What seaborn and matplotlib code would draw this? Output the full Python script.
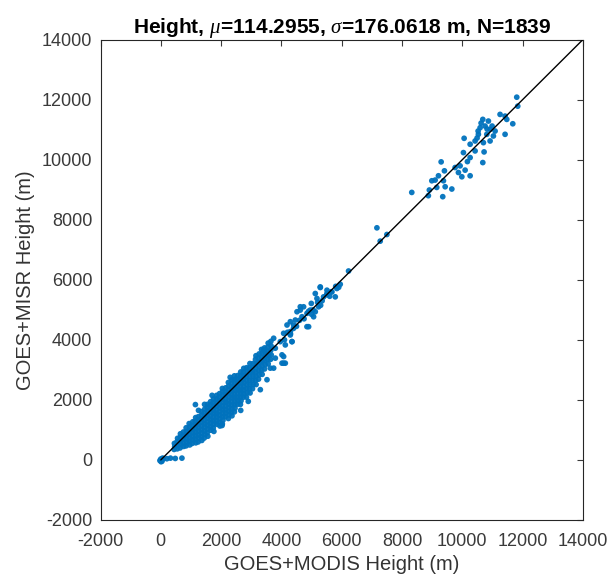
import matplotlib
matplotlib.use("Agg")
import matplotlib.pyplot as plt
import seaborn as sns
import pandas as pd

sns.set_theme(style="white")
plt.rcParams['font.family'] = ['Liberation Sans', 'DejaVu Sans']
plt.rcParams['mathtext.fontset'] = 'custom'
plt.rcParams['mathtext.it'] = 'Liberation Serif:italic'

# ---- data (metres) ----
origin_x = [-30, 0, 30, 60, 10, 40, 80, 200, 320, 480, 700]
origin_y = [-20, 30, 0, 60, -60, -40, 40, 40, 60, 50, 60]

dense_x = [
    440, 460, 450,
    545, 560, 540, 555,
    640, 660, 655, 645, 650,
    760, 740, 755, 745, 750,
    840, 860, 850, 845, 855, 840,
    960, 940, 955, 945, 950, 960, 940,
    1040, 1060, 1045, 1055, 1050, 1040, 1060,
    1160, 1140, 1155, 1145, 1150, 1160, 1140, 1155,
    1240, 1260, 1245, 1255, 1250, 1240, 1260, 1245,
    1360, 1340, 1355, 1345, 1350, 1360, 1340, 1355, 1345,
    1440, 1460, 1445, 1455, 1450, 1440, 1460, 1445, 1455,
    1560, 1540, 1555, 1545, 1550, 1560, 1540, 1555, 1545, 1550,
    1660, 1645, 1655, 1650, 1640, 1660, 1645, 1655, 1650,
    1760, 1740, 1755, 1745, 1750, 1760, 1740, 1755, 1745, 1750,
    1860, 1845, 1855, 1850, 1840, 1860, 1845, 1855, 1850,
    1960, 1940, 1955, 1945, 1950, 1960, 1940, 1955, 1945, 1950,
    2040, 2060, 2045, 2055, 2050, 2040, 2060, 2045, 2055, 2050, 2040,
    2140, 2155, 2145, 2150, 2160, 2140, 2155, 2145, 2150,
    2240, 2260, 2245, 2255, 2250, 2240, 2260, 2245, 2255, 2250, 2240,
    2360, 2340, 2355, 2345, 2350, 2360, 2340, 2355, 2345, 2350, 2360,
    2440, 2460, 2445, 2455, 2450, 2440, 2460, 2445, 2455, 2450, 2440,
    2540, 2555, 2545, 2550, 2560, 2540, 2555, 2545, 2550,
    2640, 2660, 2645, 2655, 2650, 2640, 2660, 2645, 2655, 2650,
    2740, 2755, 2745, 2750, 2760, 2740, 2755, 2745, 2750,
    2840, 2860, 2845, 2855, 2850, 2840, 2860, 2845,
    2960, 2940, 2955, 2945, 2950, 2960, 2940, 2955,
    3040, 3060, 3045, 3055, 3050, 3040, 3060,
    3160, 3140, 3155, 3145, 3150, 3160, 3140, 3155,
    3240, 3260, 3245, 3255, 3250, 3240, 3260,
    3360, 3340, 3355, 3345, 3350, 3360, 3340,
    3440, 3460, 3445, 3455, 3450, 3440,
    3560, 3540, 3555, 3545, 3550, 3560,
    3640, 3660, 3645, 3655, 3650,
]
dense_y = [
    350, 450, 550,
    370, 490, 610, 720,
    400, 520, 640, 760, 870,
    450, 570, 690, 810, 930,
    470, 590, 710, 830, 950, 1070,
    500, 620, 740, 860, 980, 1100, 1210,
    550, 670, 790, 910, 1030, 1150, 1270,
    570, 690, 810, 930, 1050, 1170, 1290, 1410,
    600, 720, 840, 960, 1080, 1200, 1320, 1440,
    650, 770, 890, 1010, 1130, 1250, 1370, 1490, 1610,
    730, 850, 970, 1090, 1210, 1330, 1450, 1570, 1690,
    790, 910, 1030, 1150, 1270, 1390, 1510, 1630, 1750, 1850,
    990, 1110, 1230, 1350, 1470, 1590, 1710, 1830, 1940,
    950, 1070, 1190, 1310, 1430, 1550, 1670, 1790, 1910, 2030,
    1190, 1310, 1430, 1550, 1670, 1790, 1910, 2030, 2150,
    1130, 1250, 1370, 1490, 1610, 1730, 1850, 1970, 2090, 2210,
    1200, 1320, 1440, 1560, 1680, 1800, 1920, 2040, 2160, 2280, 2380,
    1440, 1560, 1680, 1800, 1920, 2040, 2160, 2280, 2400,
    1380, 1500, 1620, 1740, 1860, 1980, 2100, 2220, 2340, 2460, 2580,
    1470, 1590, 1710, 1830, 1950, 2070, 2190, 2310, 2430, 2550, 2670,
    1600, 1720, 1840, 1960, 2080, 2200, 2320, 2440, 2560, 2680, 2800,
    1850, 1970, 2090, 2210, 2330, 2450, 2570, 2690, 2810,
    1850, 1970, 2090, 2210, 2330, 2450, 2570, 2690, 2810, 2930,
    2090, 2210, 2330, 2450, 2570, 2690, 2810, 2930, 3050,
    2090, 2230, 2370, 2510, 2650, 2790, 2930, 3070,
    2230, 2370, 2510, 2650, 2790, 2930, 3070, 3210,
    2370, 2510, 2650, 2790, 2930, 3070, 3210,
    2510, 2650, 2790, 2930, 3070, 3210, 3350, 3470,
    2690, 2830, 2970, 3110, 3250, 3390, 3530,
    2850, 2990, 3130, 3270, 3410, 3550, 3680,
    3030, 3170, 3310, 3450, 3590, 3730,
    3200, 3340, 3480, 3620, 3760, 3890,
    3350, 3500, 3650, 3800, 3950,
]

mid_x = [1147, 2031, 3742, 4018, 4349, 4128, 4846, 5067, 4625, 5288, 5785,
         5838, 5288, 5675, 5510, 5122, 5178, 5397, 4990, 4735, 5231, 5122,
         4516, 4847, 4681, 4460, 4294, 4185, 4901, 4404, 4073, 4294, 4350,
         3742, 3962, 3797, 3410, 3575, 3797, 4073, 4128, 3356, 4625, 4956,
         5510, 4294, 4073, 3631, 3521, 4018, 3300,
         4200, 4400, 4600, 4750, 4900, 5050, 5200, 5350, 5500, 5650, 5800,
         4100, 4300, 4500, 5000, 5300, 5600, 5900, 5950,
         6226, 7166, 7275, 7497,
         1450, 2300, 2650, 2900, 1700, 1250]
mid_y = [1843, 1147, 3057, 3223, 3940, 3830, 4437, 4768, 5100, 5762, 5431,
         5708, 5741, 5595, 5542, 5542, 5377, 5430, 5212, 5099, 5099, 4935,
         4935, 4881, 4768, 4658, 4603, 4493, 4437, 4493, 4217, 4161, 3939,
         4052, 3939, 3721, 3665, 3499, 3390, 3443, 3222, 3277, 4990, 4990,
         5652, 4271, 3222, 3057, 2671, 3499, 2340,
         4250, 4380, 4650, 4700, 4950, 5000, 5250, 5300, 5500, 5600, 5780,
         4000, 4200, 4450, 4850, 5150, 5450, 5750, 5850,
         6291, 7729, 7285, 7507,
         1850, 2750, 1650, 1950, 2150, 1650]

high_x = [11803, 11836, 11250, 11416, 11472, 11671, 10677, 10863, 10588, 10753,
          10919, 10531, 10810, 11029, 11416, 10697, 10919, 10422, 10058, 10257,
          10422, 10035, 10720, 10257, 10167, 9296, 10677, 9925, 9760, 10091,
          9405, 9869, 10257, 9982, 9207, 9097, 8987, 9372, 9650, 9150,
          9429, 8905, 8322, 8872, 9349,
          10522, 10985, 10820, 10621, 11085, 10488]
high_y = [12079, 11780, 11506, 11449, 11340, 11194, 11340, 11284, 11062, 11118,
          11009, 10843, 10843, 10787, 10843, 10565, 10621, 10621, 10710, 10512,
          10290, 10234, 10257, 10068, 9935, 9925, 9902, 9793, 9737, 9650,
          9627, 9571, 9462, 9429, 9462, 9319, 9296, 9296, 9021, 9074,
          9097, 8988, 8908, 8799, 8766,
          10952, 11118, 11019, 11217, 10952, 10720]

one_to_one = [0, 14000]
ticks = list(range(-2000, 14001, 2000))
title_text = r"Height, $\mu$=114.2955, $\sigma$=176.0618 m, N=1839"
xlabel_text = "GOES+MODIS Height (m)"
ylabel_text = "GOES+MISR Height (m)"

df = pd.DataFrame({
    "x": origin_x + dense_x + mid_x + high_x,
    "y": origin_y + dense_y + mid_y + high_y,
})

fig = plt.figure(figsize=(6.08, 5.74), dpi=100)
ax = fig.add_axes([100.5 / 608, 54 / 574, 482.5 / 608, 480.5 / 574])

sns.scatterplot(data=df, x="x", y="y", ax=ax, s=17, color="#0072BD",
                edgecolor="none", linewidth=0, alpha=0.95, zorder=2)
ax.plot(one_to_one, one_to_one, color="black", lw=1.0, zorder=3)

ax.set_xlim(-2000, 14000)
ax.set_ylim(-2000, 14000)
ax.set_xticks(ticks)
ax.set_yticks(ticks)
ax.set_xticklabels([str(t) for t in ticks])
ax.set_yticklabels([str(t) for t in ticks])
ax.tick_params(direction="in", length=4, width=0.8, top=True, right=True,
               labelsize=13, colors="#3a3a3a", pad=6)
ax.tick_params(axis="x", pad=9)
for s in ax.spines.values():
    s.set_color("#262626")
    s.set_linewidth(0.8)
ax.set_xlabel(xlabel_text, fontsize=14.5, color="#333333", labelpad=4)
ax.set_ylabel(ylabel_text, fontsize=14.5, color="#333333", labelpad=5)
ax.set_title(title_text, fontsize=15, fontweight="bold", color="black", pad=5)

fig.savefig("out.png", dpi=100)
